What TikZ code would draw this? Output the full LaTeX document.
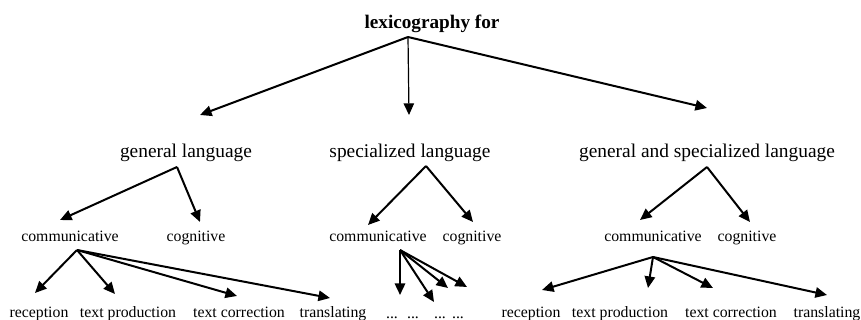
\documentclass[tikz,border=0pt]{standalone}
\usepackage{fontspec}
\setmainfont{Liberation Serif}
\usepackage{tikz}
\usetikzlibrary{arrows.meta,positioning}

\begin{document}
\begin{tikzpicture}[x=0.5pt,y=-0.5pt,
  title/.style={anchor=base,inner sep=0pt,font=\bfseries\fontsize{9.6}{11}\selectfont},
  lang/.style={anchor=base,inner sep=0pt,font=\fontsize{9.7}{11}\selectfont},
  txt/.style={anchor=base,inner sep=0pt,font=\fontsize{7.9}{9}\selectfont},
  arr/.style={line width=1pt,-{Triangle[length=5.8pt,width=5.2pt]}}]
\useasboundingbox (0,0) rectangle (861,320);

% Title
\node[title] (lex) at (432,29) {lexicography for};
\coordinate (lex-s) at (408,37);

% Languages
\node[lang] (gen) at (186,158) {general language};
\node[lang] (spec) at (410,158) {specialized language};
\node[lang] (both) at (707,158) {general and specialized language};
\coordinate (gen-t) at (200,115);
\coordinate (spec-t) at (409,115);
\coordinate (both-t) at (707,108);
\draw[arr] (lex-s) -- (gen-t);
\draw[arr,line width=0.6pt] (lex-s) -- (spec-t);
\draw[arr] (lex-s) -- (both-t);

% Functions
\node[txt] (gcom) at (70,242) {communicative};
\node[txt] (gcog) at (196,242) {cognitive};
\node[txt] (scom) at (378,242) {communicative};
\node[txt] (scog) at (472,242) {cognitive};
\node[txt] (bcom) at (653,242) {communicative};
\node[txt] (bcog) at (747,242) {cognitive};
\coordinate (gen-s) at (177,167);
\coordinate (spec-s) at (426,166);
\coordinate (both-s) at (707,167);
\coordinate (gcom-t) at (60,220);
\coordinate (gcog-t) at (200,222);
\coordinate (scom-t) at (368,225);
\coordinate (scog-t) at (473,222);
\coordinate (bcom-t) at (640,220);
\coordinate (bcog-t) at (750,222);
\draw[arr] (gen-s) -- (gcom-t);
\draw[arr] (gen-s) -- (gcog-t);
\draw[arr] (spec-s) -- (scom-t);
\draw[arr] (spec-s) -- (scog-t);
\draw[arr] (both-s) -- (bcom-t);
\draw[arr] (both-s) -- (bcog-t);

% Tasks, general language
\node[txt] (grec) at (39,317) {reception};
\node[txt] (gprod) at (128,317) {text production};
\node[txt] (gcorr) at (239,317) {text correction};
\node[txt] (gtra) at (333,317) {translating};
\coordinate (gcom-s) at (77,250);
\coordinate (grec-t) at (35,293);
\coordinate (gprod-t) at (115,294);
\coordinate (gcorr-t) at (237,296);
\coordinate (gtra-t) at (330,298);
\foreach \n in {grec,gprod,gcorr,gtra}
  \draw[arr] (gcom-s) -- (\n-t);

% Tasks, specialized language
\node[txt] (sd1) at (392,318) {...};
\node[txt] (sd2) at (413,318) {...};
\node[txt] (sd3) at (440,318) {...};
\node[txt] (sd4) at (458,318) {...};
\coordinate (scom-s) at (400,250);
\coordinate (sd1-t) at (400,295);
\coordinate (sd2-t) at (434,302);
\coordinate (sd3-t) at (448,288);
\coordinate (sd4-t) at (467,287);
\foreach \n in {sd1,sd2,sd3,sd4}
  \draw[arr] (scom-s) -- (\n-t);

% Tasks, general and specialized language
\node[txt] (brec) at (531,317) {reception};
\node[txt] (bprod) at (620,317) {text production};
\node[txt] (bcorr) at (731,317) {text correction};
\node[txt] (btra) at (827,317) {translating};
\coordinate (bcom-s) at (653,257);
\coordinate (brec-t) at (542,290);
\coordinate (bprod-t) at (648,288);
\coordinate (bcorr-t) at (713,288);
\coordinate (btra-t) at (827,295);
\foreach \n in {brec,bprod,bcorr,btra}
  \draw[arr] (bcom-s) -- (\n-t);
\end{tikzpicture}
\end{document}
